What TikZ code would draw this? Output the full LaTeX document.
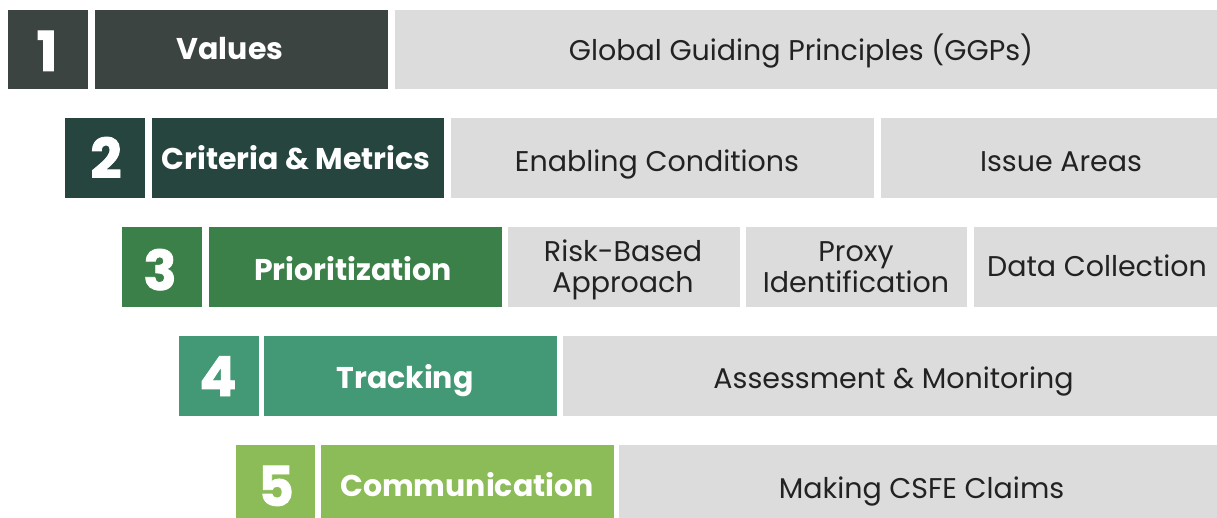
\documentclass[tikz,border=0pt]{standalone}
\usepackage{fontspec}
\setmainfont{Poppins}
\newfontfamily\numfont{Poppins}[FakeBold=1.5]
\definecolor{cA}{HTML}{3B4441}
\definecolor{cB}{HTML}{25453E}
\definecolor{cC}{HTML}{3C8049}
\definecolor{cD}{HTML}{439975}
\definecolor{cE}{HTML}{8BBC57}
\definecolor{grayfill}{HTML}{DCDCDC}
\definecolor{graytext}{HTML}{222222}
\tikzset{
  box/.style={anchor=north west, inner sep=0pt, outer sep=0pt, minimum height=80pt},
  numtext/.style={anchor=base, inner sep=0pt, text=white, font=\fontsize{55}{55}\selectfont\numfont\bfseries},
  titletext/.style={anchor=base, inner sep=0pt, text=white, font=\fontsize{30}{30}\selectfont\bfseries},
  graytext/.style={anchor=base, inner sep=0pt, text=graytext, font=\fontsize{28.5}{31}\selectfont, align=center},
  graybox/.style={box, fill=grayfill},
}
\begin{document}
\begin{tikzpicture}[x=1pt,y=-1pt]
\useasboundingbox (0,0) rectangle (1217,518);
% Row 1
\node[box, fill=cA, minimum width=80pt, minimum height=79pt] (n1) at (8,10) {};
\node[box, fill=cA, minimum width=293pt, minimum height=79pt] (t1) at (95,10) {};
\node[graybox, minimum width=822pt, minimum height=79pt] (g11) at (395,10) {};
\node[numtext] (n1l) at (47,71) {1};
\node[titletext] (t1l) at (230,60) {Values};
\node[graytext] (g11l) at (801,61) {Global Guiding Principles (GGPs)};
% Row 2
\node[box, fill=cB, minimum width=80pt] (n2) at (65,118) {};
\node[box, fill=cB, minimum width=292pt] (t2) at (152,118) {};
\node[graybox, minimum width=423pt] (g21) at (451,118) {};
\node[graybox, minimum width=336pt] (g22) at (881,118) {};
\node[numtext] (n2l) at (106,178) {2};
\node[titletext] (t2l) at (296,170) {Criteria \& Metrics};
\node[graytext] (g21l) at (657,172) {Enabling Conditions};
\node[graytext] (g22l) at (1061,172) {Issue Areas};
% Row 3
\node[box, fill=cC, minimum width=80pt] (n3) at (122,227) {};
\node[box, fill=cC, minimum width=293pt] (t3) at (209,227) {};
\node[graybox, minimum width=232pt] (g31) at (508,227) {};
\node[graybox, minimum width=221pt] (g32) at (746,227) {};
\node[graybox, minimum width=243pt] (g33) at (974,227) {};
\node[numtext] (n3l) at (160,290) {3};
\node[titletext] (t3l) at (353,281) {Prioritization};
\node[graytext] (g31l) at (623,293) {Risk-Based\\Approach};
\node[graytext] (g32l) at (856,293) {Proxy\\Identification};
\node[graytext] (g33l) at (1097,277) {Data Collection};
% Row 4
\node[box, fill=cD, minimum width=80pt] (n4) at (179,336) {};
\node[box, fill=cD, minimum width=293pt] (t4) at (264,336) {};
\node[graybox, minimum width=654pt] (g41) at (563,336) {};
\node[numtext] (n4l) at (218,396) {4};
\node[titletext] (t4l) at (405,388) {Tracking};
\node[graytext] (g41l) at (893.5,388) {Assessment \& Monitoring};
% Row 5
\node[box, fill=cE, minimum width=79pt, minimum height=73pt] (n5) at (236,445) {};
\node[box, fill=cE, minimum width=293pt, minimum height=73pt] (t5) at (321,445) {};
\node[graybox, minimum width=598pt, minimum height=73pt] (g51) at (619,445) {};
\node[numtext] (n5l) at (276,506) {5};
\node[titletext] (t5l) at (467,496) {Communication};
\node[graytext] (g51l) at (921.5,498) {Making CSFE Claims};
\end{tikzpicture}
\end{document}
